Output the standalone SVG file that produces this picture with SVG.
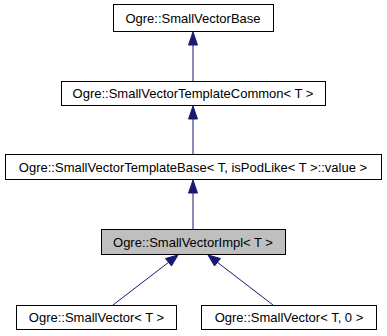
<svg xmlns="http://www.w3.org/2000/svg" width="387" height="336" viewBox="0 0 387 336">
  <style>
    .box { fill: #ffffff; stroke: #000000; stroke-width: 1; }
    .cur { fill: #bfbfbf; }
    .lbl { font-family: "Liberation Sans", Arial, sans-serif; font-size: 13px; fill: #000000; text-anchor: middle; }
    .edge { stroke: #191970; stroke-width: 1; fill: none; }
    .head { fill: #191970; stroke: #191970; stroke-width: 1; }
  </style>
  <rect width="387" height="336" fill="#ffffff"/>

  <!-- inheritance edges -->
  <g id="edges">
    <line class="edge" x1="193" y1="45" x2="193" y2="81"/>
    <polygon class="head" points="193,32 188.5,45 197.5,45"/>

    <line class="edge" x1="193" y1="119" x2="193" y2="154"/>
    <polygon class="head" points="193,106 188.5,119 197.5,119"/>

    <line class="edge" x1="193" y1="193" x2="193" y2="229"/>
    <polygon class="head" points="193,180 188.5,193 197.5,193"/>

    <line class="edge" x1="113" y1="305" x2="169" y2="262"/>
    <polygon class="head" points="178,255 165.5,258.5 171.5,266"/>

    <line class="edge" x1="273" y1="305" x2="217" y2="262"/>
    <polygon class="head" points="208,255 214.5,266 220.5,258.5"/>
  </g>

  <g id="SmallVectorBase">
    <rect class="box" x="113.5" y="4.5" width="160" height="27"/>
    <text class="lbl" x="193" y="23">Ogre::SmallVectorBase</text>
  </g>

  <g id="SmallVectorTemplateCommon">
    <rect class="box" x="61.5" y="81.5" width="264" height="24"/>
    <text class="lbl" x="193" y="98">Ogre::SmallVectorTemplateCommon&lt; T &gt;</text>
  </g>

  <g id="SmallVectorTemplateBase">
    <rect class="box" x="5.5" y="154.5" width="376" height="25"/>
    <text class="lbl" x="193" y="172">Ogre::SmallVectorTemplateBase&lt; T, isPodLike&lt; T &gt;::value &gt;</text>
  </g>

  <g id="SmallVectorImpl">
    <rect class="box cur" x="101.5" y="229.5" width="184" height="25"/>
    <text class="lbl" x="193" y="247">Ogre::SmallVectorImpl&lt; T &gt;</text>
  </g>

  <g id="SmallVector_T">
    <rect class="box" x="16.5" y="305.5" width="160" height="24"/>
    <text class="lbl" x="96.5" y="322">Ogre::SmallVector&lt; T &gt;</text>
  </g>

  <g id="SmallVector_T_0">
    <rect class="box" x="201.5" y="305.5" width="175" height="24"/>
    <text class="lbl" x="289" y="322">Ogre::SmallVector&lt; T, 0 &gt;</text>
  </g>
</svg>
